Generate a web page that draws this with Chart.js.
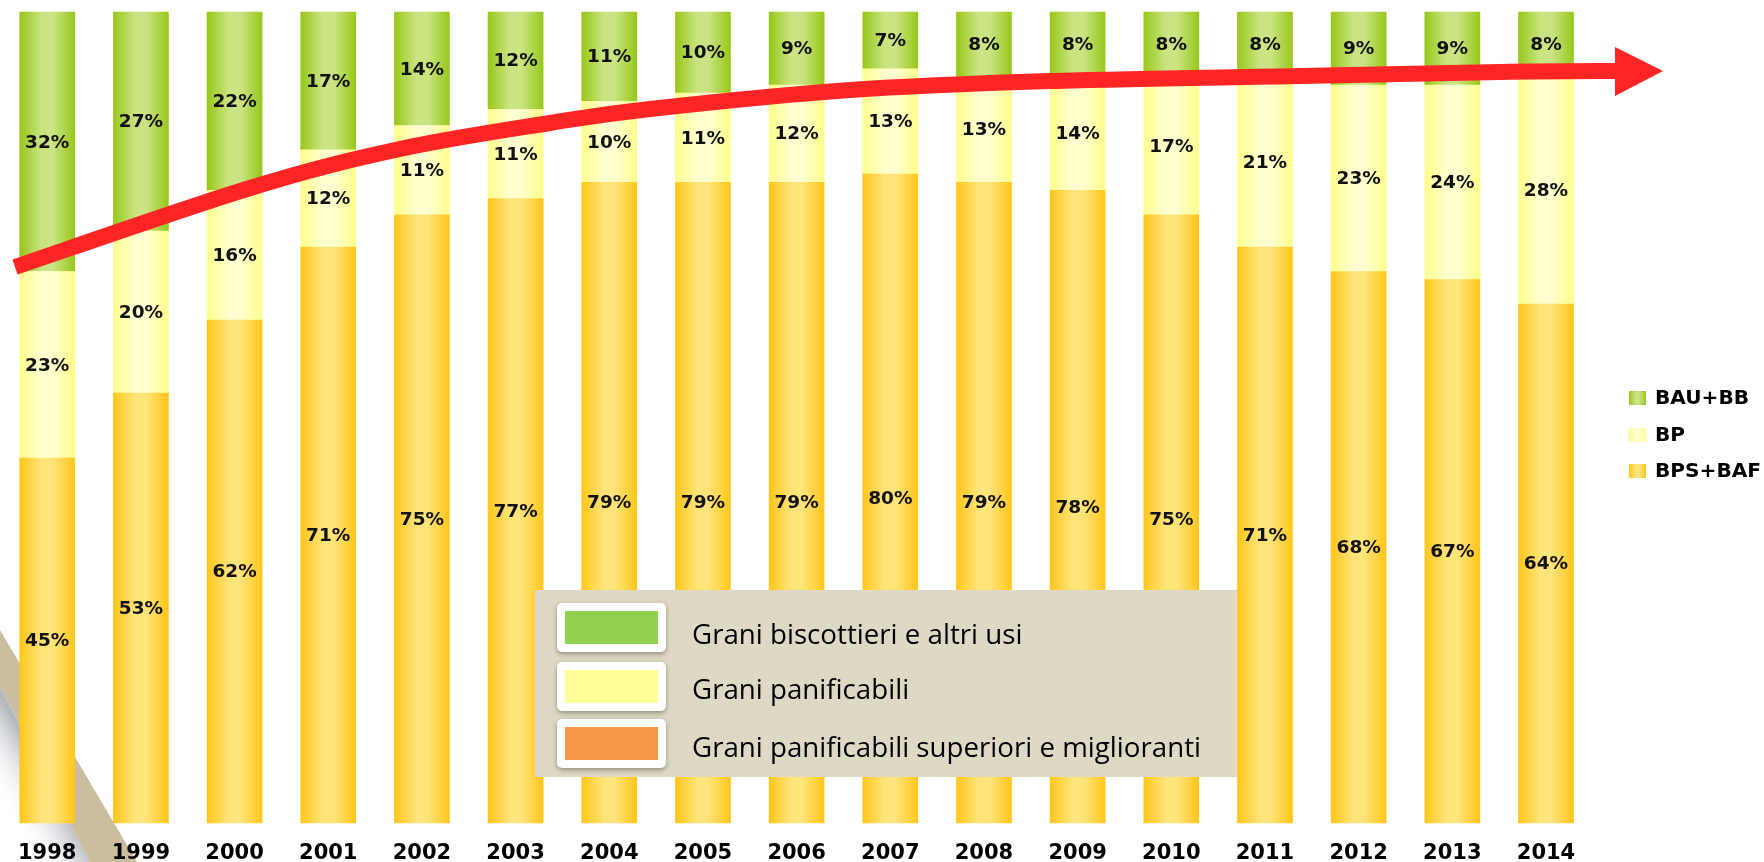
<!DOCTYPE html>
<html>
<head>
<meta charset="utf-8">
<script src="https://cdn.jsdelivr.net/npm/chart.js@4/dist/chart.umd.min.js"></script>
<style>
  html, body { margin: 0; padding: 0; background: #fff; }
  #wrap { width: 1764px; height: 862px; position: relative; }
</style>
</head>
<body>
<div id="wrap"><canvas id="grani"></canvas></div>
<script>
// anni e quote (%) per tipologia di grano
const years = ['1998','1999','2000','2001','2002','2003','2004','2005','2006','2007','2008','2009','2010','2011','2012','2013','2014'];
const bpsBaf = [45, 53, 62, 71, 75, 77, 79, 79, 79, 80, 79, 78, 75, 71, 68, 67, 64];
const bp     = [23, 20, 16, 12, 11, 11, 10, 11, 12, 13, 13, 14, 17, 21, 23, 24, 28];
const bauBb  = [32, 27, 22, 17, 14, 12, 11, 10,  9,  7,  8,  8,  8,  8,  9,  9,  8];
const seriesNames = ['BPS+BAF', 'BP', 'BAU+BB'];
const insetNames = ['Grani biscottieri e altri usi', 'Grani panificabili', 'Grani panificabili superiori e miglioranti'];

const BAR_W = 55;
const shades = {
  green:  ['#98c71a', '#cbe483'],
  yellow: ['#ffff8c', '#ffffd0'],
  orange: ['#ffc61a', '#ffe47a']
};

function hGrad(c, x0, w, cols) {
  const g = c.createLinearGradient(x0, 0, x0 + w, 0);
  g.addColorStop(0, cols[0]);
  g.addColorStop(0.4, cols[1]);
  g.addColorStop(0.6, cols[1]);
  g.addColorStop(1, cols[0]);
  return g;
}

function barFill(cols) {
  return function(ctx) {
    const chart = ctx.chart;
    const xs = chart.scales && chart.scales.x;
    if (!chart.chartArea || !xs || ctx.dataIndex === undefined) return cols[0];
    const cx = xs.getPixelForValue(ctx.dataIndex);
    return hGrad(chart.ctx, cx - BAR_W / 2, BAR_W, cols);
  };
}

// etichette percentuali dentro le barre
const valueLabels = {
  id: 'valueLabels',
  afterDatasetsDraw(chart) {
    const c = chart.ctx;
    c.save();
    c.font = 'bold 18.5px "DejaVu Sans"';
    c.fillStyle = '#111';
    c.textAlign = 'center';
    c.textBaseline = 'middle';
    chart.data.datasets.forEach((ds, i) => {
      chart.getDatasetMeta(i).data.forEach((el, j) => {
        c.fillText(ds.data[j] + '%', el.x, (el.y + el.base) / 2 + 1);
      });
    });
    c.restore();
  }
};

// fascia decorativa in basso a sinistra
const decoration = {
  id: 'decoration',
  beforeDraw(chart) {
    const c = chart.ctx;
    c.save();
    const g = c.createLinearGradient(45, 774, 0, 800);
    g.addColorStop(0, 'rgba(120,125,135,0.55)');
    g.addColorStop(1, 'rgba(255,255,255,0)');
    c.fillStyle = g;
    c.beginPath();
    c.moveTo(0, 686); c.lineTo(90, 862); c.lineTo(0, 862); c.closePath();
    c.fill();
    c.fillStyle = '#cbbd9f';
    c.beginPath();
    c.moveTo(0, 630); c.lineTo(137, 862); c.lineTo(90, 862); c.lineTo(0, 686); c.closePath();
    c.fill();
    c.restore();
  }
};

// freccia rossa di tendenza
const arrowPts = [[15,267],[250,188],[400,149],[550,123],[650,109],[850,90],[1050,81],[1300,76],[1500,72],[1618,71]];
const trendArrow = {
  id: 'trendArrow',
  afterDraw(chart) {
    const c = chart.ctx;
    const p = arrowPts;
    c.save();
    c.strokeStyle = '#ff2525';
    c.fillStyle = '#ff2525';
    c.lineWidth = 16;
    c.lineCap = 'butt';
    c.beginPath();
    c.moveTo(p[0][0], p[0][1]);
    for (let i = 0; i < p.length - 1; i++) {
      const p0 = p[i - 1] || p[i], p1 = p[i], p2 = p[i + 1], p3 = p[i + 2] || p2;
      c.bezierCurveTo(
        p1[0] + (p2[0] - p0[0]) / 6, p1[1] + (p2[1] - p0[1]) / 6,
        p2[0] - (p3[0] - p1[0]) / 6, p2[1] - (p3[1] - p1[1]) / 6,
        p2[0], p2[1]);
    }
    c.stroke();
    c.beginPath();
    c.moveTo(1615, 47); c.lineTo(1663, 71); c.lineTo(1615, 96); c.closePath();
    c.fill();
    c.restore();
  }
};

// legenda a destra e riquadro legenda
const legends = {
  id: 'legends',
  afterDraw(chart) {
    const c = chart.ctx;
    c.save();
    const rows = [['BAU+BB', shades.green, 398], ['BP', shades.yellow, 435], ['BPS+BAF', shades.orange, 471]];
    c.font = 'bold 19px "DejaVu Sans"';
    c.textBaseline = 'middle';
    const lx = 106 / c.measureText('BPS+BAF').width;
    rows.forEach(r => {
      c.fillStyle = hGrad(c, 1629, 17, r[1]);
      c.fillRect(1629, r[2] - 7, 17, 14);
      c.save();
      c.translate(1655, r[2] + 1);
      c.scale(lx, 1);
      c.fillStyle = '#000';
      c.fillText(r[0], 0, 0);
      c.restore();
    });

    c.fillStyle = '#ddd9c4';
    c.fillRect(535, 590, 702, 187);
    const sw = [['#92d050', 603], ['#ffff99', 662], ['#f79646', 719]];
    sw.forEach(s => {
      c.save();
      c.shadowColor = 'rgba(0,0,0,0.35)';
      c.shadowBlur = 5;
      c.shadowOffsetY = 2;
      c.fillStyle = '#fff';
      c.beginPath();
      c.roundRect(557, s[1], 109, 49, 5);
      c.fill();
      c.restore();
      c.fillStyle = s[0];
      c.fillRect(565, s[1] + 8, 93, 33);
    });
    c.font = '28px "Open Sans"';
    const sx = 509 / c.measureText(insetNames[2]).width;
    c.fillStyle = '#000';
    c.textBaseline = 'middle';
    [[insetNames[0], 636], [insetNames[1], 691], [insetNames[2], 749]].forEach(t => {
      c.save();
      c.translate(692, t[1]);
      c.scale(sx, 1);
      c.fillText(t[0], 0, 0);
      c.restore();
    });
    c.restore();
  }
};

new Chart(document.getElementById('grani'), {
  type: 'bar',
  data: {
    labels: years,
    datasets: [
      { label: seriesNames[0], data: bpsBaf, backgroundColor: barFill(shades.orange) },
      { label: seriesNames[1], data: bp, backgroundColor: barFill(shades.yellow) },
      { label: seriesNames[2], data: bauBb, backgroundColor: barFill(shades.green) }
    ]
  },
  options: {
    responsive: true,
    maintainAspectRatio: false,
    animation: false,
    datasets: { bar: { barThickness: BAR_W, borderWidth: 0, clip: false } },
    layout: { padding: { top: 12, left: 39.5, right: 218, bottom: 0 } },
    plugins: { legend: { display: false }, tooltip: { enabled: false } },
    scales: {
      x: {
        stacked: true,
        offset: false,
        grid: { display: false, drawTicks: false },
        border: { display: false },
        ticks: {
          autoSkip: false, maxRotation: 0, padding: 18, color: '#000',
          font: { family: 'DejaVu Sans', weight: 'bold', size: 21 }
        },
        afterFit(scale) { scale.height = 39; }
      },
      y: { stacked: true, display: false, min: 0, max: 100 }
    }
  },
  plugins: [decoration, valueLabels, trendArrow, legends]
});
</script>
</body>
</html>
